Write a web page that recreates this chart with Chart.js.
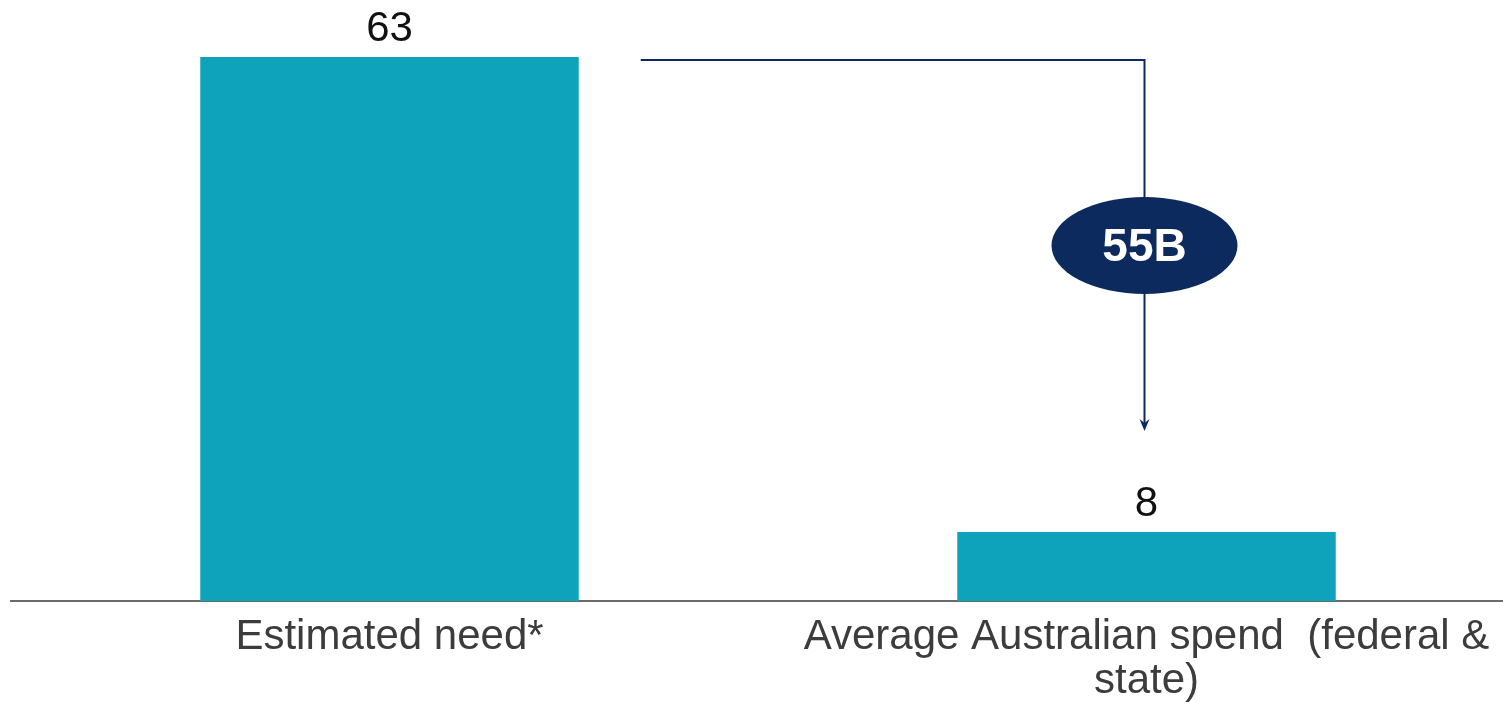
<!DOCTYPE html>
<html>
<head>
<meta charset="utf-8">
<script src="https://cdn.jsdelivr.net/npm/chart.js@4/dist/chart.umd.min.js"></script>
<style>
    html, body { margin: 0; padding: 0; background: #fff; overflow: hidden; }
    #wrap { position: absolute; left: 0; top: 0; width: 1540px; height: 712px; }
</style>
</head>
<body>
<div id="wrap"><canvas id="myChart"></canvas></div>
<script>
'use strict';

// values in billions
var categories = [
    'Estimated need*',
    ['Average Australian spend  (federal &', 'state)']
];
var spend = [63, 8];
var gapLabel = (spend[0] - spend[1]) + 'B';

var barColor = '#0ea3bb';
var navy = '#0c2a5e';

// value numbers above each bar
var valueLabels = {
    id: 'valueLabels',
    afterDatasetsDraw: function(chart) {
        var ctx = chart.ctx;
        var meta = chart.getDatasetMeta(0);
        ctx.save();
        ctx.fillStyle = '#111';
        ctx.font = '42px "Liberation Sans", Arial, sans-serif';
        ctx.textAlign = 'center';
        ctx.textBaseline = 'alphabetic';
        meta.data.forEach(function(bar, i) {
            ctx.fillText(String(spend[i]), bar.x, bar.y - 16);
        });
        ctx.restore();
    }
};

// connector line from the tall bar down to the short one, with the gap bubble
var gapArrow = {
    id: 'gapArrow',
    afterDatasetsDraw: function(chart) {
        var ctx = chart.ctx;
        var meta = chart.getDatasetMeta(0);
        var y = chart.scales.y;
        var b1 = meta.data[0], b2 = meta.data[1];
        var x0 = b1.x + b1.width / 2 + 62;
        var x1 = b2.x - 2;
        var yTop = y.getPixelForValue(spend[0]) + 3;
        var yTip = y.getPixelForValue(spend[1]) - 101;

        ctx.save();
        ctx.strokeStyle = navy;
        ctx.fillStyle = navy;
        ctx.lineWidth = 2;
        ctx.beginPath();
        ctx.moveTo(x0, yTop);
        ctx.lineTo(x1, yTop);
        ctx.lineTo(x1, yTip - 6);
        ctx.stroke();

        // arrow head
        ctx.beginPath();
        ctx.moveTo(x1, yTip);
        ctx.lineTo(x1 - 5, yTip - 12);
        ctx.lineTo(x1, yTip - 8);
        ctx.lineTo(x1 + 5, yTip - 12);
        ctx.closePath();
        ctx.fill();

        // bubble
        var cy = (yTop + yTip) / 2;
        ctx.beginPath();
        ctx.ellipse(x1, cy, 93, 48.5, 0, 0, Math.PI * 2);
        ctx.fill();
        ctx.fillStyle = '#fff';
        ctx.font = 'bold 46px "Liberation Sans", Arial, sans-serif';
        ctx.textAlign = 'center';
        ctx.textBaseline = 'middle';
        ctx.fillText(gapLabel, x1, cy + 3);
        ctx.restore();
    }
};

var ctx = document.getElementById('myChart').getContext('2d');
var chart = new Chart(ctx, {
    type: 'bar',
    data: {
        labels: categories,
        datasets: [{
            data: spend,
            backgroundColor: barColor,
            borderWidth: 0,
            barPercentage: 0.5,
            categoryPercentage: 1.0
        }]
    },
    options: {
        responsive: true,
        maintainAspectRatio: false,
        animation: false,
        events: [],
        layout: { padding: { left: 11, right: 15, top: 57, bottom: 0 } },
        plugins: {
            legend: { display: false },
            tooltip: { enabled: false }
        },
        scales: {
            x: {
                grid: { display: false, drawTicks: false },
                border: { display: true, color: '#6a6a6a', width: 2 },
                ticks: {
                    color: '#3c3c3c',
                    padding: 15,
                    maxRotation: 0,
                    autoSkip: false,
                    font: { family: '"Liberation Sans", Arial, sans-serif', size: 42, lineHeight: 1.04 }
                },
                afterFit: function(scale) { scale.height = 111; }
            },
            y: {
                display: false,
                min: 0,
                max: 63
            }
        }
    },
    plugins: [valueLabels, gapArrow]
});
</script>
</body>
</html>
